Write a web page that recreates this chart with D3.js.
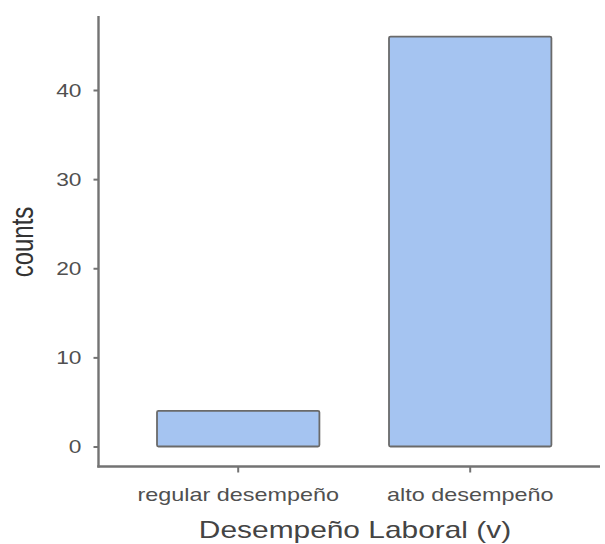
<!DOCTYPE html>
<html>
<head>
<meta charset="utf-8">
<script src="https://cdn.jsdelivr.net/npm/d3@7"></script>
<style>
  body { margin: 0; background: #fff; }
  text { font-family: "Liberation Sans", Arial, sans-serif; }
</style>
</head>
<body>
<svg id="chart"></svg>
<script>
// data
const categories = ["regular desempeño", "alto desempeño"];
const counts = [4, 46];
const yTicks = [0, 10, 20, 30, 40];

const width = 605;
const height = 544;
// the picture looks stretched sideways, text gets the same stretch
const sx = 1.3;

const svg = d3.select("#chart")
  .attr("width", width)
  .attr("height", height);

// scales
const x = d3.scaleBand()
  .domain(categories)
  .range([87.4, 621])
  .padding(0.3);

const y = d3.scaleLinear()
  .domain([0, 40])
  .range([446.5, 90]);

const axisColor = "#737373";
const labelColor = "#505050";

// bars
svg.append("g")
  .selectAll("rect")
  .data(counts)
  .enter()
  .append("rect")
  .attr("x", (d, i) => x(categories[i]))
  .attr("y", d => y(d))
  .attr("width", x.bandwidth())
  .attr("height", d => y(0) - y(d))
  .attr("rx", 1.5)
  .style("fill", "#a5c4f1")
  .style("stroke", "#6a6a6a")
  .style("stroke-width", 1.8);

// y axis
const yAxis = svg.append("g")
  .attr("transform", "translate(98.5,0)")
  .call(d3.axisLeft(y).tickValues(yTicks).tickSize(5).tickSizeOuter(0));
yAxis.select(".domain").remove();
yAxis.selectAll(".tick line")
  .attr("stroke", axisColor)
  .attr("stroke-width", 2);
yAxis.selectAll(".tick text")
  .attr("x", null)
  .attr("dy", null)
  .attr("dominant-baseline", "central")
  .attr("transform", "translate(-17,0) scale(" + sx + ",1)")
  .style("font-size", "17.5px")
  .style("fill", labelColor);
yAxis.append("line")
  .attr("x1", 0).attr("x2", 0)
  .attr("y1", 16).attr("y2", 467.5)
  .attr("stroke", axisColor)
  .attr("stroke-width", 2.4);

// x axis
const xAxis = svg.append("g")
  .attr("transform", "translate(0,466.5)")
  .call(d3.axisBottom(x).tickSize(6).tickSizeOuter(0));
xAxis.select(".domain").remove();
xAxis.selectAll(".tick line")
  .attr("stroke", axisColor)
  .attr("stroke-width", 2);
xAxis.selectAll(".tick text")
  .attr("y", null)
  .attr("dy", null)
  .attr("transform", "translate(0,34) scale(" + sx + ",1)")
  .style("font-size", "18px")
  .style("fill", labelColor);
xAxis.append("line")
  .attr("x1", 97.3).attr("x2", 600)
  .attr("y1", 0).attr("y2", 0)
  .attr("stroke", axisColor)
  .attr("stroke-width", 2.4);

// axis titles
svg.append("text")
  .attr("transform", "translate(355,538) scale(" + sx + ",1)")
  .attr("text-anchor", "middle")
  .style("font-size", "23px")
  .style("fill", "#444")
  .text("Desempeño Laboral (v)");

svg.append("text")
  .attr("transform", "translate(33,242) scale(" + sx + ",1) rotate(-90)")
  .attr("text-anchor", "middle")
  .style("font-size", "24px")
  .style("fill", "#333")
  .text("counts");
</script>
</body>
</html>
